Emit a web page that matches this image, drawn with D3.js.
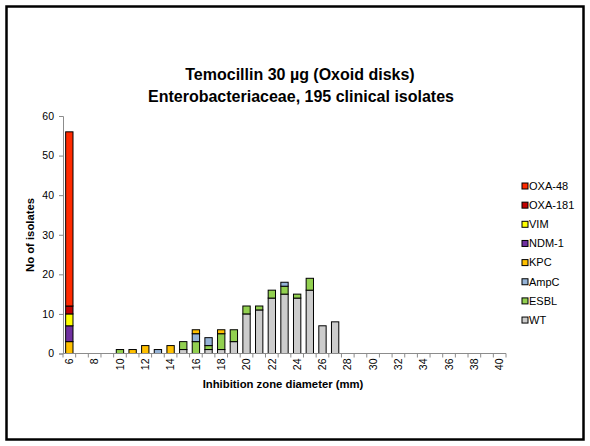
<!DOCTYPE html>
<html><head><meta charset="utf-8">
<script src="https://cdn.jsdelivr.net/npm/d3@7"></script>
<style>html,body{margin:0;padding:0;background:#fff;}svg{display:block;font-family:"Liberation Sans",Arial,sans-serif;}</style>
</head><body>
<svg id="c" width="590" height="446"></svg>
<script>
const categories = [6,7,8,9,10,11,12,13,14,15,16,17,18,19,20,21,22,23,24,25,26,27,28,29,30,31,32,33,34,35,36,37,38,39,40];
const xTickLabels = [6,8,10,12,14,16,18,20,22,24,26,28,30,32,34,36,38,40];
const yTicks = [0,10,20,30,40,50,60];
//                 6 7 8 9 10 11 12 13 14 15 16 17 18 19 20 21 22 23 24 25 26 27 28..40
const WT      = [0,0,0,0,0, 0, 0, 0, 0, 1, 0, 1, 1, 3,10,11,14,15,14,16, 7, 8, 0,0,0,0,0,0,0,0,0,0,0,0,0];
const ESBL    = [0,0,0,0,1, 0, 0, 0, 0, 2, 3, 1, 4, 3, 2, 1, 2, 2, 1, 3, 0, 0, 0,0,0,0,0,0,0,0,0,0,0,0,0];
const AmpC    = [0,0,0,0,0, 0, 0, 1, 0, 0, 2, 2, 0, 0, 0, 0, 0, 1, 0, 0, 0, 0, 0,0,0,0,0,0,0,0,0,0,0,0,0];
const KPC     = [3,0,0,0,0, 1, 2, 0, 2, 0, 1, 0, 1, 0, 0, 0, 0, 0, 0, 0, 0, 0, 0,0,0,0,0,0,0,0,0,0,0,0,0];
const NDM1    = [4,0,0,0,0, 0, 0, 0, 0, 0, 0, 0, 0, 0, 0, 0, 0, 0, 0, 0, 0, 0, 0,0,0,0,0,0,0,0,0,0,0,0,0];
const VIM     = [3,0,0,0,0, 0, 0, 0, 0, 0, 0, 0, 0, 0, 0, 0, 0, 0, 0, 0, 0, 0, 0,0,0,0,0,0,0,0,0,0,0,0,0];
const OXA181  = [2,0,0,0,0, 0, 0, 0, 0, 0, 0, 0, 0, 0, 0, 0, 0, 0, 0, 0, 0, 0, 0,0,0,0,0,0,0,0,0,0,0,0,0];
const OXA48   = [44,0,0,0,0,0, 0, 0, 0, 0, 0, 0, 0, 0, 0, 0, 0, 0, 0, 0, 0, 0, 0,0,0,0,0,0,0,0,0,0,0,0,0];
const seriesNames = ["WT","ESBL","AmpC","KPC","NDM-1","VIM","OXA-181","OXA-48"];
const seriesValues = [WT, ESBL, AmpC, KPC, NDM1, VIM, OXA181, OXA48];
const seriesColors = ["#cccccc","#92d050","#95b3d7","#ffc000","#7030a0","#ffff00","#c00000","#ff2a00"];
const titleLines = ["Temocillin 30 µg (Oxoid disks)","Enterobacteriaceae, 195 clinical isolates"];
const xTitle = "Inhibition zone diameter (mm)";
const yTitle = "No of isolates";

const svg = d3.select("#c");
svg.append("rect").attr("x",6.5).attr("y",6.5).attr("width",577).attr("height",433)
  .attr("fill","none").attr("stroke","#000").attr("stroke-width",2.5);

const pad = 0.42;
const x = d3.scaleBand().domain(categories).range([63,506]).paddingInner(pad).paddingOuter(pad/2);
const y = d3.scaleLinear().domain([0,60]).range([353.5,116]);

const rows = categories.map((c,i)=>{const r={cat:c}; seriesNames.forEach((s,j)=>r[s]=seriesValues[j][i]); return r;});
const stack = d3.stack().keys(seriesNames)(rows);

const g = svg.append("g");
stack.forEach((layer,j)=>{
  g.selectAll(null).data(layer.filter(d=>d[1]-d[0]>0)).enter().append("rect")
   .attr("x",d=>x(d.data.cat)).attr("width",x.bandwidth())
   .attr("y",d=>y(d[1])).attr("height",d=>y(d[0])-y(d[1]))
   .attr("fill",seriesColors[j]).attr("stroke","#000").attr("stroke-width",1);
});

// y axis
const yAxis = svg.append("g").attr("transform","translate(63,0)")
  .call(d3.axisLeft(y).tickValues(yTicks).tickSize(4).tickPadding(5));
yAxis.select(".domain").attr("stroke","#8c8c8c");
yAxis.selectAll(".tick line").attr("stroke","#8c8c8c");
yAxis.selectAll("text").attr("font-size",10.5).attr("fill","#000").attr("font-family","Liberation Sans, Arial, sans-serif");

// x axis
const boundary = d3.scaleLinear().domain([0,categories.length]).range([63,506]);
const xAxisG = svg.append("g").attr("transform",`translate(0,${y(0)})`);
xAxisG.call(d3.axisBottom(x).tickValues(xTickLabels).tickSize(0).tickPadding(0));
xAxisG.select(".domain").attr("stroke","#8c8c8c").attr("d",`M63,0H506`);
xAxisG.selectAll(".tick text").attr("font-size",10.5).attr("fill","#000")
  .attr("font-family","Liberation Sans, Arial, sans-serif")
  .attr("transform","rotate(-90)").attr("text-anchor","end").attr("dy","0.35em").attr("x",-5).attr("y",0);
xAxisG.selectAll(".bt").data(d3.range(categories.length+1)).enter().append("line")
  .attr("class","bt").attr("x1",d=>boundary(d)).attr("x2",d=>boundary(d)).attr("y1",0).attr("y2",4)
  .attr("stroke","#8c8c8c");

// titles
svg.append("text").attr("x",300).attr("y",80).attr("text-anchor","middle").attr("font-weight","bold").attr("font-size",16).text(titleLines[0]);
svg.append("text").attr("x",301).attr("y",102).attr("text-anchor","middle").attr("font-weight","bold").attr("font-size",16).text(titleLines[1]);
svg.append("text").attr("x",283).attr("y",388).attr("text-anchor","middle").attr("font-weight","bold").attr("font-size",11.3).text(xTitle);
svg.append("text").attr("transform","translate(34,235) rotate(-90)").attr("text-anchor","middle").attr("font-weight","bold").attr("font-size",11.3).text(yTitle);

// legend
const leg = svg.append("g");
const legOrder = seriesNames.map((s,i)=>i).reverse();
legOrder.forEach((j,k)=>{
  const cy = 186 + k*19.15;
  leg.append("rect").attr("x",522).attr("y",cy-3).attr("width",6).attr("height",6)
    .attr("fill",seriesColors[j]).attr("stroke","#000").attr("stroke-width",1);
  leg.append("text").attr("x",529).attr("y",cy).attr("dy","0.35em").attr("font-size",11).text(seriesNames[j]);
});
</script>
</body></html>
